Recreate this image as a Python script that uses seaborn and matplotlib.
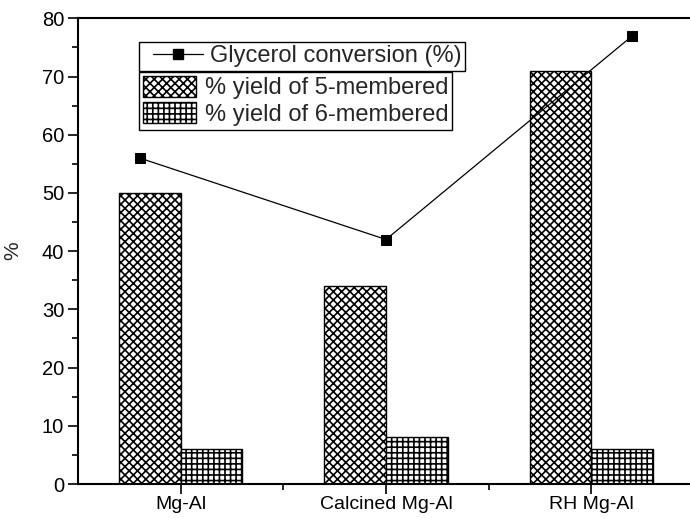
import matplotlib
matplotlib.use("Agg")
import matplotlib.pyplot as plt
import seaborn as sns
import pandas as pd
from matplotlib.ticker import MultipleLocator, FixedLocator
from matplotlib.legend_handler import HandlerLine2D
from matplotlib.lines import Line2D
from matplotlib.patches import Patch

# ---- data ----
catalysts = ["Mg-Al", "Calcined Mg-Al", "RH Mg-Al"]
yield5 = [50, 34, 71]
yield6 = [6, 8, 6]
conv_x = [-0.2, 1.0, 2.2]
conversion = [56, 42, 77]
series_names = ["% yield of 5-membered", "% yield of 6-membered"]
line_name = "Glycerol conversion (%)"

sns.set_theme(style="ticks")
plt.rcParams["font.family"] = ["Liberation Sans", "DejaVu Sans"]
plt.rcParams["hatch.linewidth"] = 1.2
plt.rcParams["hatch.color"] = "black"

W, H = 690, 518
fig = plt.figure(figsize=(W / 100, H / 100), dpi=100)
ax = fig.add_axes([78 / W, 1 - 484 / H, (694 - 78) / W, (484 - 18.3) / H])

df = pd.DataFrame({
    "cat": catalysts * 2,
    "val": yield5 + yield6,
    "series": [series_names[0]] * 3 + [series_names[1]] * 3,
})
sns.barplot(data=df, x="cat", y="val", hue="series", order=catalysts,
            hue_order=series_names, palette=["white", "white"], width=0.6,
            edgecolor="black", linewidth=1.0, legend=False, ax=ax, zorder=2)
hatches = ["xxxx", "+++"]
for cont, h in zip(ax.containers, hatches):
    for bar in cont:
        bar.set_hatch(h)
        bar.set_edgecolor("black")

sns.lineplot(x=conv_x, y=conversion, color="black", linewidth=0.9,
             marker="s", markersize=7, markeredgecolor="black",
             markerfacecolor="black", ax=ax, zorder=3, legend=False)

ax.set_xlim(-0.5, 2.5)
ax.set_ylim(0, 80)
ax.yaxis.set_major_locator(MultipleLocator(10))
ax.yaxis.set_minor_locator(MultipleLocator(5))
ax.xaxis.set_minor_locator(FixedLocator([0.5, 1.5]))
ax.set_xlabel("")
ax.set_ylabel("%", fontsize=15, labelpad=14)
ax.tick_params(axis="both", which="major", direction="out", length=7,
               width=1.2, labelsize=14.5, color="black", labelcolor="black")
ax.tick_params(axis="y", which="major", pad=3)
ax.tick_params(axis="x", which="major", pad=1.5, labelsize=14)
ax.tick_params(axis="both", which="minor", direction="out", length=4,
               width=1.2, color="black")
for s in ["left", "bottom", "top"]:
    ax.spines[s].set_visible(True)
    ax.spines[s].set_linewidth(1.5)
    ax.spines[s].set_color("black")
ax.spines["right"].set_visible(False)
ax.grid(False)

fs = 17
# legend 1: line
lh = Line2D([], [], color="black", linewidth=0.9, marker="s",
            markersize=7, markerfacecolor="black")
leg1 = fig.legend([lh], [line_name], loc="upper left",
                  bbox_to_anchor=(139 / W, 1 - 41.7 / H),
                  bbox_transform=fig.transFigure, borderaxespad=0,
                  fontsize=fs, frameon=True, fancybox=False, shadow=False,
                  edgecolor="black", framealpha=1, borderpad=0.15,
                  handlelength=2.55, handletextpad=0.3,
                  handler_map={Line2D: HandlerLine2D(xpad=0.45)})
leg1.get_frame().set_linewidth(1.0)

ph = [Patch(facecolor="white", edgecolor="black", hatch=h, linewidth=1.0)
      for h in hatches]
leg2 = fig.legend(ph, series_names, loc="upper left",
                  bbox_to_anchor=(139 / W, 1 - 72.3 / H),
                  bbox_transform=fig.transFigure, borderaxespad=0,
                  fontsize=fs, frameon=True, fancybox=False, shadow=False,
                  edgecolor="black", framealpha=1, borderpad=0.15,
                  handlelength=2.25, handleheight=1.0, labelspacing=0.12,
                  handletextpad=0.4)
leg2.get_frame().set_linewidth(1.0)

fig.savefig("out.png", dpi=100)
